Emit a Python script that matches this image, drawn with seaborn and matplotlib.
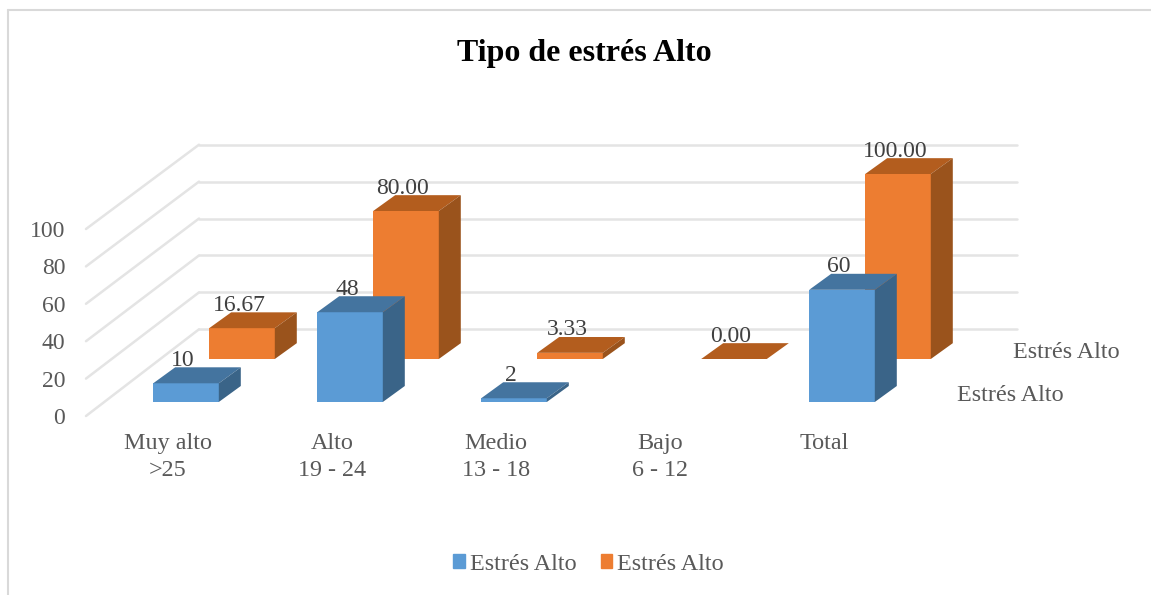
import matplotlib
matplotlib.use("Agg")
import matplotlib.pyplot as plt
import seaborn as sns
from matplotlib.patches import ConnectionPatch, Polygon, Patch
from matplotlib.lines import Line2D

categories = ["Muy alto\n>25", "Alto\n19 - 24", "Medio\n13 - 18", "Bajo\n6 - 12", "Total"]
blue_categories = ["Muy alto\n>25", "Alto\n19 - 24", "Medio\n13 - 18", "Total"]
blue_values = [10, 48, 2, 60]
orange_values = [16.67, 80.00, 3.33, 0.00, 100.00]
blue_labels = ["10", "48", "2", "60"]
orange_labels = ["16.67", "80.00", "3.33", "0.00", "100.00"]
y_ticks = [0, 20, 40, 60, 80, 100]
series_name = "Estrés Alto"
title = "Tipo de estrés Alto"

W, H = 1151, 595
BLUE, BLUE_TOP, BLUE_SIDE = "#5B9BD5", "#44749F", "#3A6488"
ORANGE, ORANGE_TOP, ORANGE_SIDE = "#ED7D31", "#B35D1E", "#9A531C"
TXT = "#595959"
LBL = "#404040"
GRID = "#E4E4E4"
FS = 17
FS_L = 17.4

sns.set_theme(style="white")
plt.rcParams["font.family"] = ["Liberation Serif", "DejaVu Serif"]

fig = plt.figure(figsize=(W / 100, H / 100), dpi=100, facecolor="white")


def axes_px(x0, x1, y_bottom, y_top, z):
    ax = fig.add_axes([x0 / W, 1 - y_bottom / H, (x1 - x0) / W, (y_bottom - y_top) / H])
    ax.set_zorder(z)
    ax.patch.set_alpha(0)
    ax.set_xlim(-0.5, 4.5)
    ax.set_ylim(0, 100)
    sns.despine(ax=ax, left=True, bottom=True)
    return ax


front = axes_px(86, 906, 416, 229, 1)
back = axes_px(199, 1017, 329.3, 144.7, 0)
orange_ax = axes_px(160, 980, 359, 174, 2)
blue_ax = axes_px(104, 924, 402, 215, 3)

# floor-front plane: value and category labels
front.set_xticks(range(5))
front.set_xticklabels(categories, color=TXT, fontsize=FS_L, linespacing=1.4)
front.set_yticks(y_ticks)
front.set_yticklabels([str(v) for v in y_ticks], color=TXT, fontsize=FS)
front.tick_params(axis="x", length=0, pad=12)
front.tick_params(axis="y", length=0, pad=15)

# back wall gridlines
back.set_xticks([])
back.set_yticks(y_ticks)
back.set_yticklabels([])
back.tick_params(length=0)
back.grid(axis="y", color=GRID, lw=1.8)
for gl in back.get_ygridlines():
    gl.set_clip_on(False)
back.set_axisbelow(True)

# side wall diagonals
for v in y_ticks:
    fig.add_artist(ConnectionPatch(xyA=(-0.5, v), coordsA=front.transData,
                                   xyB=(-0.5, v), coordsB=back.transData,
                                   color=GRID, lw=1.8, zorder=-1))


def bars3d(ax, cats, values, labels, col, top_col, side_col):
    sns.barplot(x=cats, y=values, ax=ax, color=col, saturation=1, width=0.4, order=categories)
    ax.set_xlim(-0.5, 4.5)
    ax.set_ylim(0, 100)
    ax.set_xticks([])
    ax.set_yticks([])
    ax.set_xlabel("")
    ax.set_ylabel("")
    dx, dy = 22 / 164, 16 / 1.87
    bars = [p for p in ax.patches]
    for p, lab in zip(bars, labels):
        h = p.get_height()
        p.set_edgecolor("none")
        x0, x1 = p.get_x(), p.get_x() + p.get_width()
        ax.add_patch(Polygon([(x0, h), (x1, h), (x1 + dx, h + dy), (x0 + dx, h + dy)],
                             fc=top_col, ec="none", clip_on=False))
        ax.add_patch(Polygon([(x1, 0), (x1 + dx, dy), (x1 + dx, h + dy), (x1, h)],
                             fc=side_col, ec="none", clip_on=False))
        ax.annotate(lab, xy=((x0 + x1) / 2, h), xytext=(-2.2, 16.5), textcoords="offset points",
                    ha="center", va="center", color=LBL, fontsize=FS, annotation_clip=False)
    ax.annotate(series_name, xy=(1, 0), xycoords="axes fraction", xytext=(24, 5),
                textcoords="offset points", ha="left", va="center", color=TXT, fontsize=FS_L,
                annotation_clip=False)


bars3d(orange_ax, categories, orange_values, orange_labels, ORANGE, ORANGE_TOP, ORANGE_SIDE)
bars3d(blue_ax, blue_categories, blue_values, blue_labels, BLUE, BLUE_TOP, BLUE_SIDE)

fig.text(584.5 / W, 1 - 53 / H, title, ha="center", va="center", color="black",
         fontsize=23, fontweight="bold")

handles = [Patch(color=BLUE, label=series_name), Patch(color=ORANGE, label=series_name)]
fig.legend(handles=handles, loc="center", bbox_to_anchor=(588.5 / W, 1 - 564 / H), ncol=2, frameon=False,
           fontsize=FS_L, labelcolor=TXT, handlelength=0.48, handleheight=0.48,
           handletextpad=0.2, columnspacing=1.0, borderpad=0)

# chart frame
for xs, ys in [((8, 8), (595, 10)), ((8, 1151), (10, 10))]:
    fig.add_artist(Line2D([x / W for x in xs], [1 - y / H for y in ys], color="#D9D9D9", lw=1.5))

fig.savefig("out.png", dpi=100)
